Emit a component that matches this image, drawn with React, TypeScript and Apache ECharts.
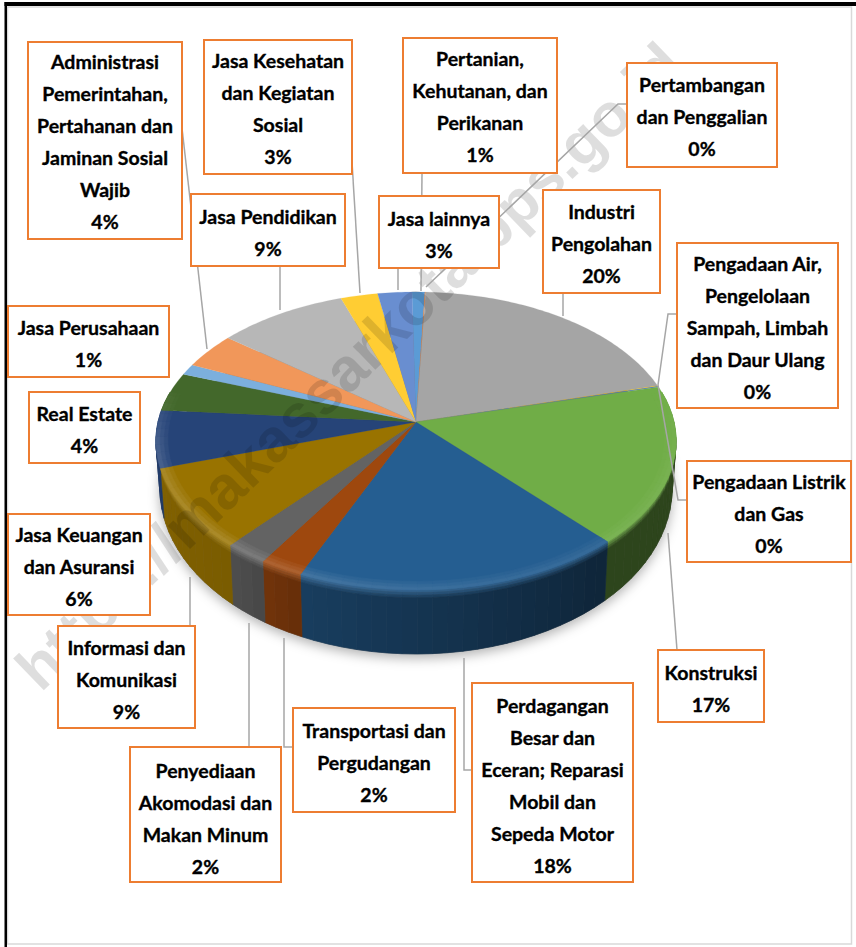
import React, { useEffect, useRef } from "react";
import * as echarts from "echarts";

const categories = [
  "Pertanian,\nKehutanan, dan\nPerikanan",
  "Pertambangan\ndan Penggalian",
  "Industri\nPengolahan",
  "Pengadaan Listrik\ndan Gas",
  "Pengadaan Air,\nPengelolaan\nSampah, Limbah\ndan Daur Ulang",
  "Konstruksi",
  "Perdagangan\nBesar dan\nEceran; Reparasi\nMobil dan\nSepeda Motor",
  "Transportasi dan\nPergudangan",
  "Penyediaan\nAkomodasi dan\nMakan Minum",
  "Informasi dan\nKomunikasi",
  "Jasa Keuangan\ndan Asuransi",
  "Real Estate",
  "Jasa Perusahaan",
  "Administrasi\nPemerintahan,\nPertahanan dan\nJaminan Sosial\nWajib",
  "Jasa Pendidikan",
  "Jasa Kesehatan\ndan Kegiatan\nSosial",
  "Jasa lainnya",
];
const shares = [0.9, 0.05, 20.2, 0.05, 0.1, 17.2, 18.2, 2.4, 2.4, 8.8, 6.2, 4.2, 1.2, 3.9, 9.1, 2.6, 2.4];
const percentLabels = ["1%", "0%", "20%", "0%", "0%", "17%", "18%", "2%", "2%", "9%", "6%", "4%", "1%", "4%", "9%", "3%", "3%"];
const palette = [
  "#5b9bd5", "#ed7d31", "#a5a5a5", "#ffc000", "#4472c4", "#70ad47", "#255e91", "#9e480e", "#636363",
  "#997300", "#264478", "#43682b", "#7cafdd", "#f1975a", "#b7b7b7", "#ffcd33", "#698ed0",
];
// label box [x0, y0, x1, y1], text centre offset
const boxes: number[][] = [
  [403, 38, 557, 173, 1],
  [627, 63, 777, 167, 1],
  [543, 190, 660, 293, 2],
  [687, 461, 851, 562, 2],
  [677, 243, 838, 408, 2],
  [658, 650, 764, 722, 2],
  [472, 683, 633, 882, 3],
  [293, 708, 455, 812, 2],
  [130, 747, 281, 882, 4],
  [58, 626, 195, 728, 2],
  [8, 514, 150, 615, 2],
  [29, 392, 140, 463, 2],
  [8, 306, 169, 377, 2],
  [28, 42, 182, 239, 1],
  [191, 194, 345, 266, 2],
  [204, 40, 352, 174, 1],
  [379, 196, 499, 268, 2],
];
const leaders: number[][][] = [
  [[422, 173], [421, 291]],
  [[627, 104], [618, 104], [426, 287]],
  [[563, 293], [563, 316]],
  [[687, 500], [678, 500], [658, 385]],
  [[677, 314], [668, 314], [658, 385]],
  [[668, 533], [677, 650]],
  [[464, 658], [464, 770], [472, 770]],
  [[284, 638], [284, 747], [293, 747]],
  [[249, 623], [249, 747]],
  [[190, 577], [190, 626]],
  [[182, 128], [207, 349]],
  [[280, 266], [280, 310]],
  [[352, 162], [360, 293]],
  [[398, 268], [398, 290]],
];
const watermark = "https://makassarkota.bps.go.id";

const CX = 416, CY = 422, K = 0.1275, A = 258, B = 146.6;
const START = -1;
const total = shares.reduce((s, v) => s + v, 0);
const angleBounds: number[] = [START];
shares.forEach((v) => angleBounds.push(angleBounds[angleBounds.length - 1] + (v / total) * 360));

function pt(deg: number, r = 1, t = 0): number[] {
  const th = (deg * Math.PI) / 180;
  const u = r * Math.sin(th), v = -r * Math.cos(th);
  const w = 1 - K * v;
  const X = (A * u) / w, Y = (B * v) / w;
  const X2 = X * 0.985, Y2 = Y + 44 + 20 * v;
  return [CX + X + (X2 - X) * t, CY + Y + (Y2 - Y) * t];
}
function hex(c: string): number[] {
  return [1, 3, 5].map((i) => parseInt(c.slice(i, i + 2), 16));
}
function rgb(c: number[]): string {
  return `rgb(${c.map((x) => Math.round(Math.max(0, Math.min(255, x)))).join(",")})`;
}
function lerp(a: number[], b: number[], f: number): number[] {
  return a.map((x, i) => x + (b[i] - x) * f);
}
function wallFactor(d: number): number {
  const stops = [[75, 0.4], [140, 0.4], [205, 0.66], [222, 0.8], [285, 0.9]];
  for (let i = 1; i < stops.length; i++) {
    if (d <= stops[i][0]) {
      const f = (d - stops[i - 1][0]) / (stops[i][0] - stops[i - 1][0]);
      return stops[i - 1][1] + (stops[i][1] - stops[i - 1][1]) * Math.max(0, f);
    }
  }
  return 0.9;
}
function highlight(d: number): number {
  const stops = [[75, 0], [110, 0.3], [170, 0.5], [225, 0.9], [262, 0.8], [285, 0]];
  for (let i = 1; i < stops.length; i++) {
    if (d <= stops[i][0]) {
      const f = (d - stops[i - 1][0]) / (stops[i][0] - stops[i - 1][0]);
      return stops[i - 1][1] + (stops[i][1] - stops[i - 1][1]) * Math.max(0, f);
    }
  }
  return 0;
}
function poly(points: number[][], fill: string, extra: any = {}) {
  return {
    type: "polygon",
    shape: { points },
    style: { fill, stroke: fill, lineWidth: 0.6, ...extra },
    silent: true,
  };
}
function steps(a: number, b: number, step: number): number[] {
  const out = [a];
  let x = a;
  while (x + step < b) {
    x += step;
    out.push(x);
  }
  out.push(b);
  return out;
}

const seriesData = shares.map((v) => [v]);

function renderWall(params: any) {
  const i = params.dataIndex;
  const a = Math.max(angleBounds[i], 78), b = Math.min(angleBounds[i + 1], 282);
  const children: any[] = [];
  if (b <= a) return { type: "group", children };
  const base = hex(palette[i]);
  const s = steps(a, b, 3);
  for (let j = 0; j < s.length - 1; j++) {
    const d0 = s[j], d1 = s[j + 1], mid = (d0 + d1) / 2;
    const wall = base.map((x) => x * wallFactor(mid));
    const peak = lerp(base, [255, 255, 255], 0.18 * highlight(mid));
    const bands = [
      [0, 0.04, 0.25],
      [0.04, 0.08, 0.5],
      [0.08, 0.12, 0.78],
      [0.12, 1, 1],
    ];
    bands.forEach(([t0, t1, f]) => {
      children.push(poly([pt(d0, 1, t0), pt(d1, 1, t0), pt(d1, 1, t1), pt(d0, 1, t1)], rgb(lerp(peak, wall, f))));
    });
  }
  return { type: "group", children };
}
function renderFace(params: any) {
  const i = params.dataIndex;
  const a = angleBounds[i], b = angleBounds[i + 1];
  const points = [[CX, CY]];
  steps(a, b, 1).forEach((d) => points.push(pt(d)));
  return poly(points, palette[i], { lineWidth: 0.2 });
}
function renderBevel(params: any) {
  const i = params.dataIndex;
  const a = Math.max(angleBounds[i], 78), b = Math.min(angleBounds[i + 1], 282);
  const children: any[] = [];
  if (b <= a) return { type: "group", children };
  const base = hex(palette[i]);
  const s = steps(a, b, 3);
  for (let j = 0; j < s.length - 1; j++) {
    const d0 = s[j], d1 = s[j + 1], mid = (d0 + d1) / 2;
    const peak = lerp(base, [255, 255, 255], 0.18 * highlight(mid));
    const bands = [
      [0.955, 0.97, 0.33],
      [0.97, 0.985, 0.66],
      [0.985, 1, 1],
    ];
    bands.forEach(([r0, r1, f]) => {
      children.push(poly([pt(d0, r0), pt(d1, r0), pt(d1, r1), pt(d0, r1)], rgb(lerp(base, peak, f))));
    });
  }
  return { type: "group", children };
}
function renderShadow(params: any) {
  if (params.dataIndex !== 0) return { type: "group", children: [] };
  const points = steps(0, 360, 3).map((d) => pt(d, 1, 1));
  return poly(points, "#777777", {
    shadowBlur: 12,
    shadowOffsetY: 4,
    shadowColor: "rgba(0,0,0,0.3)",
  });
}

function buildGraphic() {
  const els: any[] = [];
  els.push({ type: "rect", z: 1, silent: true, shape: { x: 7.5, y: 7, width: 844, height: 937 }, style: { fill: "#ffffff", stroke: "#d9d9d9", lineWidth: 1.5 } });
  els.push({ type: "rect", z: 90, silent: true, shape: { x: 4.5, y: 2, width: 2.5, height: 945 }, style: { fill: "#000000" } });
  els.push({ type: "rect", z: 90, silent: true, shape: { x: 4.5, y: 2, width: 851.5, height: 4 }, style: { fill: "#000000" } });
  els.push({
    type: "text", z: 50, silent: true, x: 349, y: 366, rotation: (44 * Math.PI) / 180,
    style: { text: watermark, fill: "rgba(0,0,0,0.13)", font: "bold 61px 'Liberation Sans'", textAlign: "center", textVerticalAlign: "middle" },
  });
  leaders.forEach((points) => {
    els.push({ type: "polyline", z: 60, silent: true, shape: { points }, style: { fill: "none", stroke: "#a6a6a6", lineWidth: 1.5 } });
  });
  categories.forEach((name, i) => {
    const [x0, y0, x1, y1, dy] = boxes[i];
    els.push({ type: "rect", z: 70, silent: true, shape: { x: x0, y: y0, width: x1 - x0, height: y1 - y0 }, style: { fill: "#ffffff", stroke: "#ed7d31", lineWidth: 2 } });
    els.push({
      type: "text", z: 80, silent: true, x: (x0 + x1) / 2, y: (y0 + y1) / 2 + dy,
      style: {
        text: `${name}\n${percentLabels[i]}`,
        fill: "#000000", stroke: "#000000", lineWidth: 0.35, font: "bold 19.5px Lato", lineHeight: 32,
        textAlign: "center", textVerticalAlign: "middle",
      },
    });
  });
  return els;
}

export default function App() {
  const ref = useRef<HTMLDivElement>(null);
  useEffect(() => {
    document.body.style.margin = "0";
    const chart = echarts.init(ref.current!, undefined, { renderer: "svg" });
    const mk = (renderItem: any, z: number) => ({
      type: "custom", coordinateSystem: "none", silent: true, z, data: seriesData, renderItem,
    });
    chart.setOption({
      animation: false,
      backgroundColor: "#ffffff",
      series: [mk(renderShadow, 2), mk(renderWall, 3), mk(renderFace, 4), mk(renderBevel, 5)],
      graphic: { elements: buildGraphic() },
    });
    return () => chart.dispose();
  }, []);
  return <div ref={ref} style={{ width: 856, height: 947 }} />;
}
